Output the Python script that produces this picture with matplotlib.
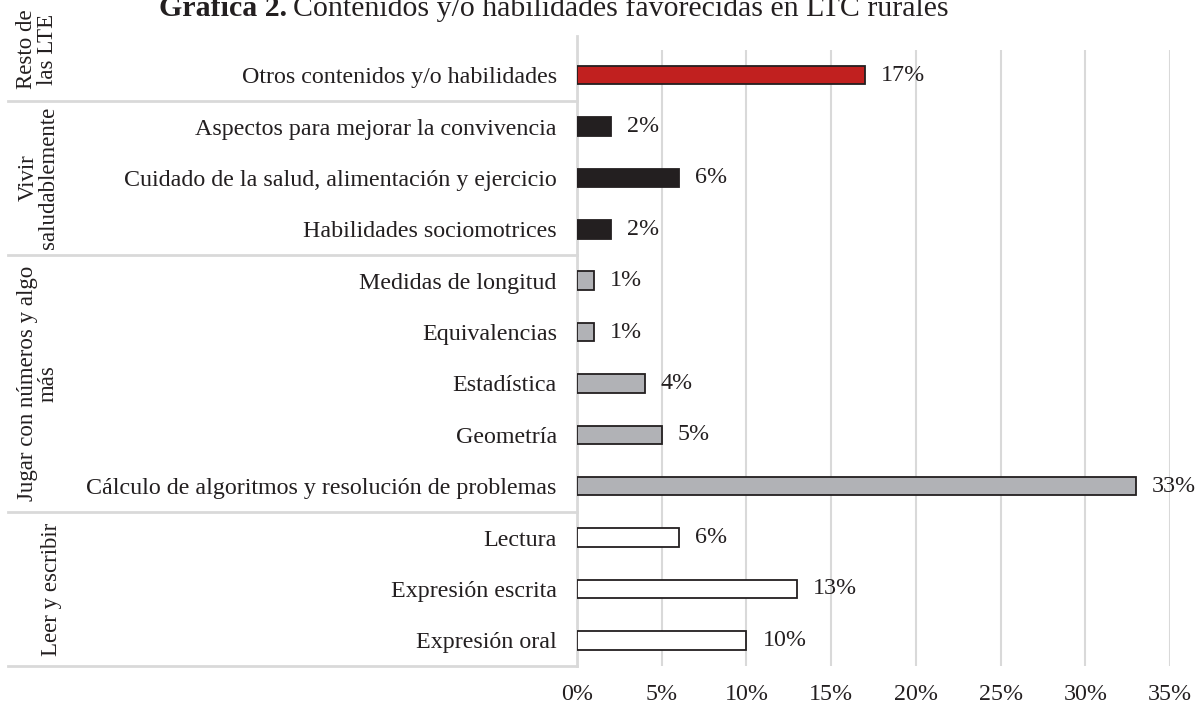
import matplotlib.pyplot as plt
import matplotlib.transforms as mtransforms

plt.rcParams['font.family'] = ['Liberation Serif', 'DejaVu Serif']

# categories from bottom to top
categorias = ["Expresión oral", "Expresión escrita", "Lectura",
              "Cálculo de algoritmos y resolución de problemas", "Geometría",
              "Estadística", "Equivalencias", "Medidas de longitud",
              "Habilidades sociomotrices", "Cuidado de la salud, alimentación y ejercicio",
              "Aspectos para mejorar la convivencia",
              "Otros contenidos y/o habilidades"]
valores = [10, 13, 6, 33, 5, 4, 1, 1, 2, 6, 2, 17]
grupo = [0, 0, 0, 1, 1, 1, 1, 1, 2, 2, 2, 3]

grupos = ["Leer y escribir", "Jugar con números y algo\nmás",
          "Vivir\nsaludablemente", "Resto de\nlas LTE"]
colores_grupo = ["#FFFFFF", "#B1B2B6", "#231F20", "#C1201F"]

W, H = 1203, 708
fig = plt.figure(figsize=(W / 100, H / 100), dpi=100)
left, right = 577, 1170
bottom, top = 666, 49.5
ax = fig.add_axes([left / W, 1 - bottom / H, (right - left) / W, (bottom - top) / H])

y = list(range(len(categorias)))
colores = [colores_grupo[g] for g in grupo]
ax.barh(y, valores, height=0.36, color=colores, edgecolor="#231F20", linewidth=1.3, zorder=3)

for yi, v in zip(y, valores):
    ax.annotate(f"{v}%", (v, yi), xytext=(11.5, 0), textcoords="offset points",
                ha="left", va="center", fontsize=17.25, color="#231F20")

ax.set_xlim(0, 35)
ax.set_ylim(-0.5, len(categorias) - 0.5)
ax.set_xticks(range(0, 36, 5))
ax.set_xticklabels([f"{t}%" for t in range(0, 36, 5)], fontsize=17.25, color="#231F20")
ax.set_yticks(y)
ax.set_yticklabels(categorias, fontsize=17.25, color="#231F20")
ax.tick_params(axis="both", length=0)
ax.tick_params(axis="y", pad=14.5)
ax.tick_params(axis="x", pad=13)
ax.grid(axis="x", color="#D9D9D9", linewidth=1.5, zorder=0)
for s in ["top", "right", "bottom", "left"]:
    ax.spines[s].set_visible(False)

# table-like group separators on the left
trans = mtransforms.blended_transform_factory(ax.transAxes, ax.transData)
x0 = (8 - left) / (right - left)
ax.plot([0, 0], [-0.5, 11.5 + 14 / 51.4], transform=trans, color="#D9D9D9",
        linewidth=2, clip_on=False, zorder=2)
for b in [10.5, 7.5, 2.5, -0.5]:
    ax.plot([x0, 0], [b, b], transform=trans, color="#D9D9D9", linewidth=2, clip_on=False)

centros = [1.0, 5.0, 9.0, 11.5]
xg = [(51 - left) / (right - left), (38 - left) / (right - left),
      (38 - left) / (right - left), (37 - left) / (right - left)]
for nombre, c, xx in zip(grupos, centros, xg):
    ax.text(xx, c, nombre, transform=trans, rotation=90, ha="center",
            va="center", multialignment="center", fontsize=16.5, color="#231F20",
            linespacing=0.95)

# title (cut at the top in the reference)
t1 = fig.text(159 / W, 1 - 16.5 / H, "Gráfica 2.", fontsize=21.5, fontweight="bold",
              ha="left", va="baseline", color="#231F20")
fig.canvas.draw()
bb = t1.get_window_extent()
fig.text(bb.x1 / W + 6 / W, 1 - 16.5 / H, "Contenidos y/o habilidades favorecidas en LTC rurales",
         fontsize=21.5, ha="left", va="baseline", color="#231F20")

fig.savefig("out.png", dpi=100)
